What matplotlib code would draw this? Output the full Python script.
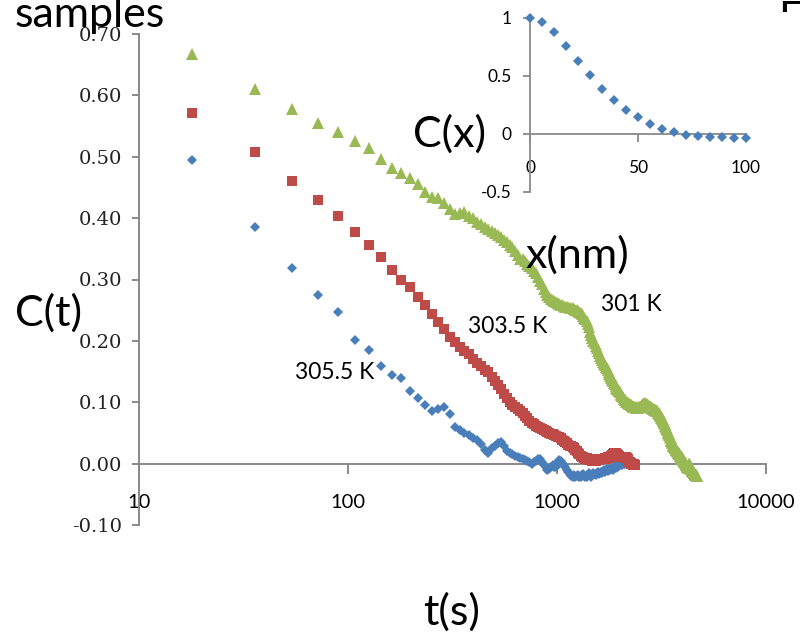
import numpy as np
import matplotlib
matplotlib.use('Agg')
import matplotlib.pyplot as plt
from matplotlib.patches import Rectangle

plt.rcParams['axes.unicode_minus'] = False

# 采样间隔 (s)
dt = 18

# C(t), 305.5 K
c_305 = [0.495, 0.385, 0.318, 0.274, 0.247, 0.202, 0.185, 0.159, 0.144, 0.139,
         0.119, 0.107, 0.096, 0.086, 0.089, 0.093, 0.081, 0.059, 0.054, 0.050,
         0.046, 0.041, 0.038, 0.032, 0.022, 0.018, 0.026, 0.029, 0.033, 0.035,
         0.028, 0.021, 0.018, 0.015, 0.013, 0.011, 0.009, 0.008, 0.006, 0.004,
         0.002, 0.000, 0.003, 0.005, 0.007, 0.008, 0.003, -0.002, -0.006, -0.010,
         -0.008, -0.005, -0.003, -0.005, -0.006, 0.002, 0.006, 0.004, 0.001, -0.002,
         -0.006, -0.010, -0.014, -0.017, -0.020, -0.021, -0.019, -0.022, -0.020, -0.018,
         -0.021, -0.022, -0.019, -0.017, -0.020, -0.022, -0.021, -0.018, -0.016, -0.019,
         -0.021, -0.018, -0.015, -0.017, -0.019, -0.016, -0.014, -0.017, -0.016, -0.013,
         -0.015, -0.012, -0.010, -0.013, -0.011, -0.009, -0.012, -0.010, -0.008, -0.011,
         -0.009, -0.007, -0.010, -0.006, -0.004, -0.007, -0.005, -0.003, -0.005, -0.002,
         0.000, -0.003, -0.001, -0.002, 0.001, -0.001, 0.002, 0.000, 0.003, 0.001,
         0.004, 0.002, 0.004, 0.003, 0.005, 0.003, 0.004, 0.002]

# C(t), 303.5 K
c_303 = [0.572, 0.507, 0.460, 0.429, 0.403, 0.377, 0.356, 0.336, 0.316, 0.300,
         0.288, 0.272, 0.258, 0.244, 0.230, 0.220, 0.206, 0.198, 0.190, 0.184,
         0.178, 0.171, 0.164, 0.159, 0.153, 0.149, 0.141, 0.135, 0.128, 0.122,
         0.114, 0.107, 0.100, 0.096, 0.092, 0.089, 0.086, 0.082, 0.078, 0.074,
         0.070, 0.067, 0.065, 0.062, 0.060, 0.058, 0.056, 0.055, 0.053, 0.052,
         0.050, 0.049, 0.048, 0.047, 0.045, 0.044, 0.043, 0.041, 0.039, 0.037,
         0.035, 0.033, 0.031, 0.029, 0.028, 0.027, 0.025, 0.023, 0.021, 0.018,
         0.015, 0.013, 0.011, 0.010, 0.009, 0.008, 0.009, 0.007, 0.006, 0.007,
         0.006, 0.005, 0.007, 0.006, 0.005, 0.006, 0.007, 0.006, 0.008, 0.007,
         0.008, 0.008, 0.007, 0.009, 0.008, 0.009, 0.010, 0.009, 0.010, 0.011,
         0.012, 0.014, 0.016, 0.017, 0.018, 0.017, 0.017, 0.016, 0.014, 0.012,
         0.011, 0.010, 0.011, 0.010, 0.010, 0.009, 0.011, 0.010, 0.010, 0.009,
         0.007, 0.005, 0.003, 0.002, 0.001, 0.000, -0.001, 0.000, -0.002, -0.001,
         -0.002]

# C(t), 301 K
c_301 = [0.667, 0.610, 0.577, 0.555, 0.541, 0.526, 0.514, 0.497, 0.482, 0.474,
         0.465, 0.455, 0.442, 0.434, 0.432, 0.424, 0.415, 0.407, 0.408, 0.410,
         0.404, 0.400, 0.394, 0.390, 0.385, 0.382, 0.379, 0.375, 0.372, 0.369,
         0.365, 0.361, 0.357, 0.353, 0.346, 0.340, 0.334, 0.333, 0.330, 0.326,
         0.322, 0.318, 0.314, 0.310, 0.304, 0.298, 0.292, 0.285, 0.279, 0.275,
         0.271, 0.269, 0.267, 0.265, 0.263, 0.262, 0.260, 0.259, 0.258, 0.257,
         0.256, 0.256, 0.255, 0.254, 0.254, 0.253, 0.252, 0.251, 0.250, 0.249,
         0.247, 0.245, 0.243, 0.240, 0.238, 0.235, 0.233, 0.228, 0.222, 0.215,
         0.210, 0.205, 0.200, 0.196, 0.192, 0.188, 0.184, 0.180, 0.175, 0.172,
         0.169, 0.166, 0.163, 0.160, 0.157, 0.155, 0.152, 0.149, 0.146, 0.143,
         0.140, 0.137, 0.135, 0.132, 0.130, 0.127, 0.124, 0.122, 0.120, 0.118,
         0.116, 0.114, 0.112, 0.110, 0.108, 0.106, 0.104, 0.103, 0.101, 0.100,
         0.099, 0.098, 0.097, 0.097, 0.096, 0.095, 0.094, 0.094, 0.093, 0.093,
         0.092, 0.092, 0.091, 0.091, 0.092, 0.091, 0.092, 0.093, 0.093, 0.094,
         0.095, 0.096, 0.096, 0.097, 0.098, 0.098, 0.097, 0.097, 0.097, 0.096,
         0.095, 0.095, 0.094, 0.093, 0.093, 0.092, 0.091, 0.091, 0.090, 0.089,
         0.089, 0.088, 0.088, 0.087, 0.087, 0.086, 0.086, 0.085, 0.083, 0.082,
         0.081, 0.079, 0.078, 0.077, 0.075, 0.074, 0.072, 0.071, 0.070, 0.068,
         0.066, 0.064, 0.062, 0.060, 0.058, 0.056, 0.054, 0.052, 0.050, 0.048,
         0.046, 0.044, 0.043, 0.041, 0.039, 0.037, 0.035, 0.033, 0.031, 0.029,
         0.028, 0.027, 0.026, 0.025, 0.024, 0.023, 0.022, 0.021, 0.020, 0.019,
         0.018, 0.017, 0.016, 0.015, 0.014, 0.013, 0.012, 0.011, 0.010, 0.009,
         0.008, 0.007, 0.006, 0.005, 0.004, 0.003, 0.002, 0.001, 0.000, -0.001,
         -0.002, -0.004, -0.006, -0.007, -0.006, -0.004, -0.002, 0.000, -0.001, -0.002,
         -0.004, -0.006, -0.008, -0.009, -0.010, -0.011, -0.012, -0.013, -0.014, -0.015,
         -0.016, -0.016, -0.017, -0.017, -0.018, -0.018, -0.019, -0.019, -0.020, -0.020]

# 插图 C(x)
x_nm = [0, 5.6, 11.1, 16.7, 22.2, 27.8, 33.3, 38.9, 44.4, 50.0,
        55.6, 61.1, 66.7, 72.2, 77.8, 83.3, 88.9, 94.4, 100.0]
c_x = [1.000, 0.965, 0.876, 0.758, 0.628, 0.507, 0.392, 0.294, 0.210, 0.144,
       0.086, 0.046, 0.014, -0.006, -0.020, -0.026, -0.029, -0.032, -0.032]

xticks = [10, 100, 1000, 10000]
xtick_labels = ['10', '100', '1000', '10000']
yticks = [-0.10, 0.00, 0.10, 0.20, 0.30, 0.40, 0.50, 0.60, 0.70]
ytick_labels = ['-0.10', '0.00', '0.10', '0.20', '0.30', '0.40', '0.50', '0.60', '0.70']
inset_xticks = [0, 50, 100]
inset_yticks = [-0.5, 0, 0.5, 1]
inset_ytick_labels = ['-0.5', '0', '0.5', '1']

blue = '#4a7ebb'
red = '#be4b48'
green = '#98b954'
axis_gray = '#898989'
sans = 'Lato'

W, H = 800, 635


def fx(px):
    return px / W


def fy(py):
    return 1 - py / H


fig = plt.figure(figsize=(8, 6.35), dpi=100)

# 主图
ax = fig.add_axes([fx(139), fy(525), fx(766) - fx(139), fy(34) - fy(525)])
ax.set_facecolor('none')
ax.set_xscale('log')
ax.set_xlim(10, 10000)
ax.set_ylim(-0.10, 0.70)

series = [(c_305, 'D', 5.4, blue), (c_303, 's', 7.0, red), (c_301, '^', 8.0, green)]
for vals, mk, ms, col in series:
    t = dt * np.arange(1, len(vals) + 1)
    ax.plot(t, vals, linestyle='none', marker=mk, markersize=ms, color=col,
            markeredgewidth=0, zorder=3, clip_on=False)

for s in ['top', 'right']:
    ax.spines[s].set_visible(False)
ax.spines['bottom'].set_position(('data', 0))
for s in ['left', 'bottom']:
    ax.spines[s].set_color(axis_gray)
    ax.spines[s].set_linewidth(1.4)

ax.set_xticks(xticks)
ax.set_xticklabels(xtick_labels, family=sans, fontsize=14.5)
ax.xaxis.set_minor_locator(matplotlib.ticker.NullLocator())
ax.tick_params(axis='x', direction='out', length=7, width=1.4, color=axis_gray, pad=15)
ax.set_yticks(yticks)
ax.set_yticklabels(ytick_labels, family='DejaVu Serif', fontsize=14, color='#222222')
ax.tick_params(axis='y', direction='out', length=5, width=1.4, color=axis_gray, pad=7)

# 插图
ax2 = fig.add_axes([fx(530), fy(192), fx(746) - fx(530), fy(18) - fy(192)])
ax2.set_facecolor('none')
ax2.set_xlim(0, 100)
ax2.set_ylim(-0.5, 1)
ax2.plot(x_nm, c_x, linestyle='none', marker='D', markersize=5.0, color=blue,
         markeredgewidth=0, zorder=3, clip_on=False)
for s in ['top', 'right']:
    ax2.spines[s].set_visible(False)
ax2.spines['bottom'].set_position(('data', 0))
for s in ['left', 'bottom']:
    ax2.spines[s].set_color(axis_gray)
    ax2.spines[s].set_linewidth(1.3)
ax2.set_xticks(inset_xticks)
ax2.set_xticklabels([str(v) for v in inset_xticks], family=sans, fontsize=12.5)
ax2.tick_params(axis='x', direction='out', length=6, width=1.3, color=axis_gray, pad=13)
ax2.set_yticks(inset_yticks)
ax2.set_yticklabels(inset_ytick_labels, family=sans, fontsize=12.5)
ax2.tick_params(axis='y', direction='out', length=5, width=1.3, color=axis_gray, pad=8)

# 文字
big = 31
fig.text(fx(15), fy(27), 'samples', family=sans, fontsize=big, va='baseline')
fig.text(fx(15), fy(326), 'C(t)', family=sans, fontsize=big, va='baseline')
fig.text(fx(423), fy(625), 't(s)', family=sans, fontsize=big, va='baseline')
fig.text(fx(413), fy(147), 'C(x)', family=sans, fontsize=big, va='baseline')
fig.text(fx(525), fy(268), 'x(nm)', family=sans, fontsize=big, va='baseline')
fig.text(fx(778), fy(32), 'F', family=sans, fontsize=big, va='baseline', zorder=3)
fig.patches.append(Rectangle((fx(772), fy(300)), fx(800) - fx(772), fy(12) - fy(300),
                             transform=fig.transFigure, facecolor='white',
                             edgecolor='none', zorder=5))

lab = 16.5
fig.text(fx(295), fy(379), '305.5 K', family=sans, fontsize=lab, va='baseline')
fig.text(fx(468), fy(333), '303.5 K', family=sans, fontsize=lab, va='baseline')
fig.text(fx(601), fy(311), '301 K', family=sans, fontsize=lab, va='baseline')

fig.savefig('out.png', dpi=100)
